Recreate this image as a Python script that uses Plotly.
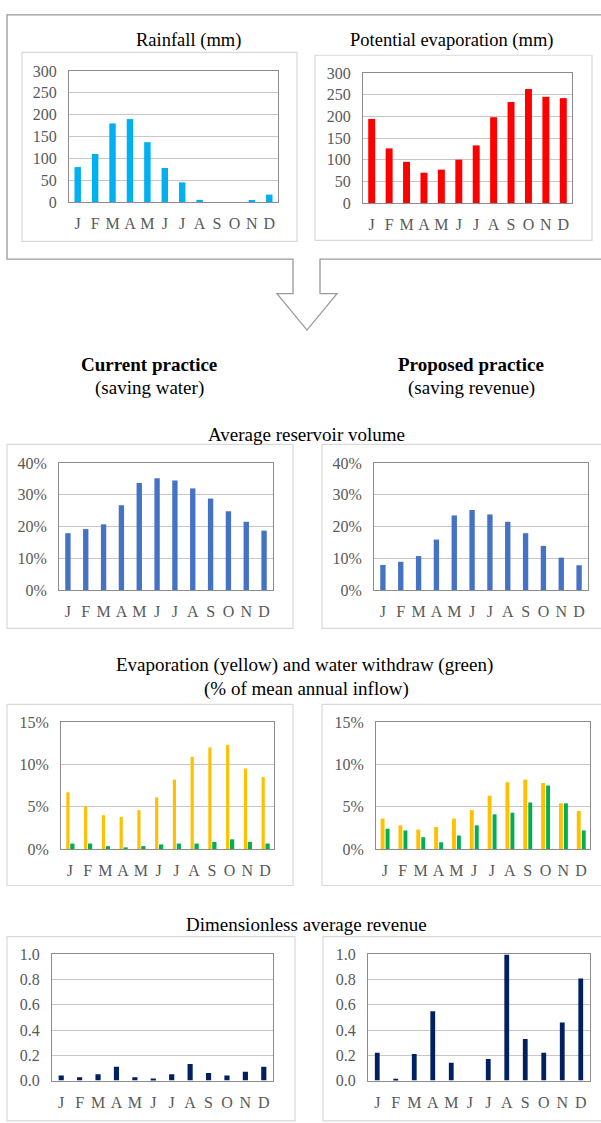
import plotly.graph_objects as go

W, H = 601, 1123

months = ["J", "F", "M", "A", "M", "J", "J", "A", "S", "O", "N", "D"]
cats = list(range(12))

rainfall_mm = [80, 110, 180, 190, 137, 78, 45, 5, 0, 0, 4, 17]
pot_evap_mm = [194, 126, 95, 70, 77, 100, 133, 198, 233, 263, 245, 242]

volume_current = [17.9, 19.2, 20.7, 26.7, 33.7, 35.2, 34.5, 32.0, 28.8, 24.8, 21.5, 18.7]
volume_proposed = [7.9, 8.9, 10.7, 15.9, 23.5, 25.2, 23.8, 21.5, 17.9, 13.9, 10.2, 7.8]

evap_current = [6.7, 5.0, 4.0, 3.8, 4.6, 6.1, 8.2, 10.9, 12.0, 12.3, 9.5, 8.5]
withdraw_current = [0.65, 0.65, 0.35, 0.2, 0.35, 0.55, 0.65, 0.65, 0.85, 1.15, 0.85, 0.65]
evap_proposed = [3.6, 2.8, 2.3, 2.6, 3.6, 4.6, 6.3, 7.9, 8.2, 7.8, 5.4, 4.5]
withdraw_proposed = [2.4, 2.2, 1.4, 0.8, 1.6, 2.8, 4.1, 4.3, 5.5, 7.5, 5.4, 2.2]

revenue_current = [0.04, 0.025, 0.05, 0.11, 0.025, 0.015, 0.05, 0.13, 0.06, 0.04, 0.07, 0.11]
revenue_proposed = [0.22, 0.013, 0.21, 0.55, 0.14, 0.0, 0.17, 1.0, 0.33, 0.22, 0.46, 0.81]

FONT = "'Liberation Serif', 'Times New Roman', 'DejaVu Serif', serif"
TICK_GREY = "#595959"
FRAME = "#8c8c8c"
GRID = "#c6c6c6"
BOX = "#d9d9d9"


def px_x(x):
    return x / W


def px_y(y):
    return 1 - y / H


# plot-area rectangles in pixels: (left, top, right, bottom)
panels = [
    (69, 64, 278, 197),    # rainfall
    (363, 66, 572, 198),   # potential evaporation
    (59, 462, 273, 591),   # volume, current
    (374, 462, 588, 591),  # volume, proposed
    (61, 725, 274, 854),   # evaporation/withdraw, current
    (376, 725, 590, 854),  # evaporation/withdraw, proposed
    (52, 961, 273, 1089),  # revenue, current
    (368, 961, 590, 1089), # revenue, proposed
]

yspecs = [
    dict(range=[0, 300], dtick=50),
    dict(range=[0, 300], dtick=50),
    dict(range=[0, 40], dtick=10, ticksuffix="%"),
    dict(range=[0, 40], dtick=10, ticksuffix="%"),
    dict(range=[0, 15], dtick=5, ticksuffix="%"),
    dict(range=[0, 15], dtick=5, ticksuffix="%"),
    dict(range=[0, 1], dtick=0.2, tickformat=".1f"),
    dict(range=[0, 1], dtick=0.2, tickformat=".1f"),
]

fig = go.Figure()


def add_bar(i, values, color, width, offset=None):
    kw = dict(
        x=cats, y=values, marker=dict(color=color, line=dict(width=0)),
        width=width, xaxis=f"x{i}", yaxis=f"y{i}", showlegend=False,
        hoverinfo="y",
    )
    if offset is not None:
        kw["offset"] = offset
    fig.add_trace(go.Bar(**kw))


add_bar(1, rainfall_mm, "#00B0F0", 0.37)
add_bar(2, pot_evap_mm, "#FF0000", 0.40)
add_bar(3, volume_current, "#4472C4", 0.30)
add_bar(4, volume_proposed, "#4472C4", 0.30)
add_bar(5, evap_current, "#FFC000", 0.18, offset=-0.2)
add_bar(5, withdraw_current, "#00B050", 0.24, offset=0.02)
add_bar(6, evap_proposed, "#FFC000", 0.22, offset=-0.24)
add_bar(6, withdraw_proposed, "#00B050", 0.22, offset=0.04)
add_bar(7, revenue_current, "#002060", 0.28)
add_bar(8, revenue_proposed, "#002060", 0.26)

layout = dict(
    width=W, height=H, margin=dict(l=0, r=0, t=0, b=0),
    paper_bgcolor="white", plot_bgcolor="white",
    barmode="overlay", font=dict(family=FONT, color="black"),
)

for i, (l, t, r, b) in enumerate(panels, start=1):
    layout[f"xaxis{i}"] = dict(
        domain=[px_x(l), px_x(r)], anchor=f"y{i}",
        range=[-0.5, 11.5], tickmode="array", tickvals=cats, ticktext=months,
        showline=True, mirror=True, linecolor=FRAME, linewidth=1,
        showgrid=False, zeroline=False, ticks="",
        tickfont=dict(family=FONT, size=16, color=TICK_GREY),
        ticklabelstandoff=7, fixedrange=True,
    )
    layout[f"yaxis{i}"] = dict(
        domain=[px_y(b), px_y(t)], anchor=f"x{i}",
        showline=True, mirror=True, linecolor=FRAME, linewidth=1,
        showgrid=True, gridcolor=GRID, gridwidth=1, zeroline=False, ticks="",
        tickfont=dict(family=FONT, size=16, color=TICK_GREY),
        ticklabelstandoff=8, fixedrange=True,
        **yspecs[i - 1],
    )

fig.update_layout(**layout)

shapes = []

# light frames around each chart
frames = [
    (22, 45, 297, 237), (315, 48, 592, 236),
    (7, 443, 293, 630), (322, 443, 610, 630),
    (7, 707, 293, 891), (322, 707, 610, 891),
    (7, 943, 295, 1130), (323, 943, 610, 1130),
]
for l, t, r, b in frames:
    shapes.append(dict(
        type="rect", xref="paper", yref="paper",
        x0=px_x(l), x1=px_x(r), y0=px_y(b), y1=px_y(t),
        line=dict(color=BOX, width=1.2), fillcolor="rgba(0,0,0,0)", layer="below",
    ))

# outer box around the climate inputs, opening into a downward arrow
outline = [(293, 255), (7, 255), (7, 7), (612, 7), (612, 255), (320, 255),
           (320, 290), (337, 290), (307, 327), (277, 290), (293, 290)]
path = "M " + " L ".join(f"{px_x(x):.5f},{px_y(y):.5f}" for x, y in outline) + " Z"
shapes.append(dict(type="path", xref="paper", yref="paper", path=path,
                   line=dict(color="#9a9a9a", width=1.3)))

fig.update_layout(shapes=shapes)


def label(text, x, y, size=18, bold=False):
    if bold:
        text = f"<b>{text}</b>"
    fig.add_annotation(
        text=text, x=px_x(x), y=px_y(y), xref="paper", yref="paper",
        xanchor="center", yanchor="middle", showarrow=False,
        font=dict(family=FONT, size=size, color="black"),
    )


label("Rainfall (mm)", 188, 33, size=18.5)
label("Potential evaporation (mm)", 451, 33, size=18.5)
label("Current practice", 149, 362, size=19, bold=True)
label("(saving water)", 149, 386, size=19)
label("Proposed practice", 471, 362, size=19, bold=True)
label("(saving revenue)", 471, 386, size=19)
label("Average reservoir volume", 306, 433, size=19)
label("Evaporation (yellow) and water withdraw (green)", 304, 667, size=19)
label("(% of mean annual inflow)", 306, 691, size=19)
label("Dimensionless average revenue", 306, 931, size=19)

fig.write_html("out.html")
